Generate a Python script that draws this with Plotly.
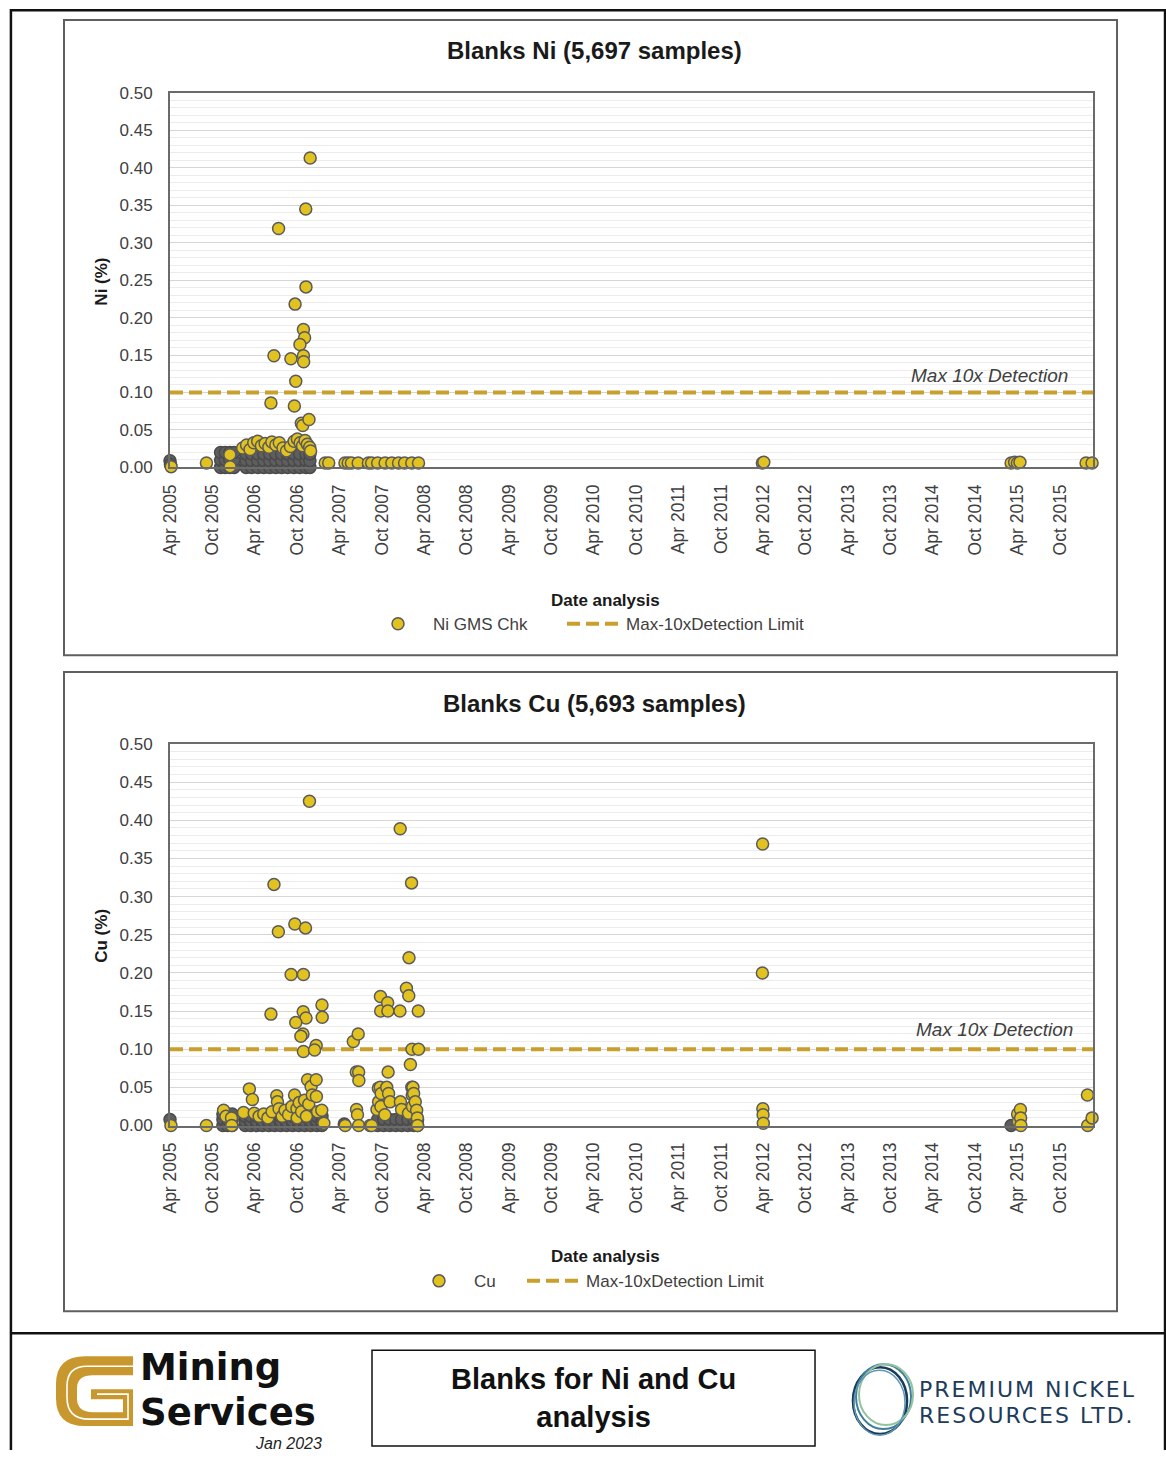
import plotly.graph_objects as go

W, H = 1166, 1460

# ---------------- data ----------------
tick_dates = ["2005-04-01", "2005-10-01", "2006-04-01", "2006-10-01", "2007-04-01", "2007-10-01",
              "2008-04-01", "2008-10-01", "2009-04-01", "2009-10-01", "2010-04-01", "2010-10-01",
              "2011-04-01", "2011-10-01", "2012-04-01", "2012-10-01", "2013-04-01", "2013-10-01",
              "2014-04-01", "2014-10-01", "2015-04-01", "2015-10-01"]
tick_labels = ["Apr 2005", "Oct 2005", "Apr 2006", "Oct 2006", "Apr 2007", "Oct 2007",
               "Apr 2008", "Oct 2008", "Apr 2009", "Oct 2009", "Apr 2010", "Oct 2010",
               "Apr 2011", "Oct 2011", "Apr 2012", "Oct 2012", "Apr 2013", "Oct 2013",
               "Apr 2014", "Oct 2014", "Apr 2015", "Oct 2015"]
x_range = ["2005-04-01", "2016-02-21"]
y_range = [0, 0.5]
y_tick_step = 0.05
detection_limit = 0.10

# Ni: tightly packed low values (render as a dark mass)
ni_dense_dates = [
    "2005-04-01", "2005-04-03",
    "2005-11-05", "2005-11-05", "2005-11-05",
    "2005-11-25", "2005-11-25", "2005-11-25",
    "2005-12-15", "2005-12-15", "2005-12-15",
    "2006-01-02", "2006-01-02", "2006-01-02",
    "2006-02-23", "2006-02-23", "2006-02-23",
    "2006-03-19", "2006-03-19", "2006-03-19",
    "2006-04-14", "2006-04-14", "2006-04-14",
    "2006-05-10", "2006-05-10", "2006-05-10",
    "2006-06-05", "2006-06-05", "2006-06-05",
    "2006-07-01", "2006-07-01", "2006-07-01",
    "2006-07-26", "2006-07-26", "2006-07-26",
    "2006-08-21", "2006-08-21", "2006-08-21",
    "2006-09-17", "2006-09-17", "2006-09-17",
    "2006-10-12", "2006-10-12", "2006-10-12",
    "2006-11-08", "2006-11-08", "2006-11-08",
    "2006-11-25", "2006-11-25", "2006-11-25",
]
ni_dense_vals = [
    0.009, 0.004,
    0.000, 0.010, 0.020,
    0.000, 0.010, 0.020,
    0.000, 0.010, 0.020,
    0.000, 0.010, 0.020,
    0.000, 0.009, 0.018,
    0.000, 0.009, 0.018,
    0.000, 0.009, 0.018,
    0.000, 0.009, 0.018,
    0.000, 0.009, 0.018,
    0.000, 0.009, 0.018,
    0.000, 0.009, 0.018,
    0.000, 0.009, 0.018,
    0.000, 0.009, 0.018,
    0.000, 0.009, 0.018,
    0.000, 0.009, 0.018,
    0.000, 0.009, 0.018,
]

# Ni: individually visible samples
ni_dates = [
    "2005-04-06", "2005-09-05", "2005-12-15", "2005-12-16",
    "2006-02-08", "2006-02-25", "2006-03-12", "2006-03-28", "2006-04-14", "2006-04-30",
    "2006-05-16", "2006-06-01", "2006-06-14", "2006-07-01", "2006-07-16", "2006-08-01",
    "2006-08-16", "2006-09-02", "2006-09-18", "2006-10-02", "2006-10-14", "2006-10-24",
    "2006-11-04", "2006-11-14", "2006-11-24", "2006-11-28",
    "2006-11-26", "2006-11-07", "2006-07-13", "2006-11-08", "2006-09-22", "2006-10-28",
    "2006-11-02", "2006-10-13", "2006-10-28", "2006-10-29", "2006-09-04", "2006-06-23",
    "2006-09-25", "2006-06-10", "2006-09-19", "2006-10-19", "2006-10-25", "2006-11-21",
    "2007-01-30", "2007-02-14", "2007-04-25", "2007-05-09", "2007-05-23", "2007-06-21",
    "2007-08-04", "2007-08-18", "2007-09-13", "2007-10-15", "2007-11-13", "2007-12-12",
    "2008-01-07", "2008-02-07", "2008-03-07",
    "2012-03-28", "2012-04-03",
    "2015-03-05", "2015-03-20", "2015-04-01", "2015-04-12",
    "2016-01-22", "2016-02-17",
]
ni_vals = [
    0.001, 0.006, 0.017, 0.001,
    0.026, 0.030, 0.024, 0.033, 0.035, 0.029,
    0.032, 0.027, 0.034, 0.030, 0.033, 0.026,
    0.022, 0.028, 0.035, 0.038, 0.033, 0.029,
    0.036, 0.031, 0.027, 0.022,
    0.413, 0.345, 0.319, 0.241, 0.218, 0.184,
    0.173, 0.164, 0.149, 0.141, 0.145, 0.149,
    0.115, 0.086, 0.082, 0.059, 0.056, 0.064,
    0.006, 0.006, 0.006, 0.006, 0.006, 0.006,
    0.006, 0.006, 0.006, 0.006, 0.006, 0.006,
    0.006, 0.006, 0.006,
    0.006, 0.007,
    0.006, 0.007, 0.006, 0.007,
    0.006, 0.006,
]

# Cu: tightly packed low values
cu_dense_dates = [
    "2005-04-01",
    "2005-11-15", "2005-11-15", "2005-11-15",
    "2005-12-05", "2005-12-05", "2005-12-05",
    "2005-12-25", "2005-12-25", "2005-12-25",
    "2006-02-19", "2006-02-19", "2006-02-19",
    "2006-03-15", "2006-03-15", "2006-03-15",
    "2006-04-10", "2006-04-10", "2006-04-10",
    "2006-05-05", "2006-05-05", "2006-05-05",
    "2006-06-01", "2006-06-01", "2006-06-01",
    "2006-06-26", "2006-06-26", "2006-06-26",
    "2006-07-22", "2006-07-22", "2006-07-22",
    "2006-08-17", "2006-08-17", "2006-08-17",
    "2006-09-12", "2006-09-12", "2006-09-12",
    "2006-10-08", "2006-10-08", "2006-10-08",
    "2006-11-03", "2006-11-03", "2006-11-03",
    "2006-11-29", "2006-11-29", "2006-11-29",
    "2006-12-25", "2006-12-25", "2006-12-25",
    "2007-01-16", "2007-01-16", "2007-01-16",
    "2007-04-22",
    "2007-09-13", "2007-09-13",
    "2007-10-09", "2007-10-09",
    "2007-11-04", "2007-11-04",
    "2007-11-30", "2007-11-30",
    "2007-12-25", "2007-12-25",
    "2008-01-21", "2008-01-21",
    "2008-02-16", "2008-02-16",
    "2008-03-03", "2008-03-03",
    "2015-03-05",
]
cu_dense_vals = [
    0.008,
    0.000, 0.008, 0.015,
    0.000, 0.008, 0.015,
    0.000, 0.008, 0.015,
    0.000, 0.006, 0.012,
    0.000, 0.006, 0.012,
    0.000, 0.006, 0.012,
    0.000, 0.006, 0.012,
    0.000, 0.006, 0.012,
    0.000, 0.006, 0.012,
    0.000, 0.006, 0.012,
    0.000, 0.006, 0.012,
    0.000, 0.006, 0.012,
    0.000, 0.006, 0.012,
    0.000, 0.006, 0.012,
    0.000, 0.006, 0.012,
    0.000, 0.006, 0.012,
    0.000, 0.006, 0.012,
    0.002,
    0.000, 0.008,
    0.000, 0.008,
    0.000, 0.008,
    0.000, 0.008,
    0.000, 0.008,
    0.000, 0.008,
    0.000, 0.008,
    0.000, 0.008,
    0.000,
]

# Cu: individually visible samples
cu_dates = [
    "2005-04-05", "2005-09-05", "2005-11-18", "2005-11-28", "2005-12-22", "2005-12-23",
    "2006-02-12", "2006-03-09", "2006-03-22", "2006-03-30", "2006-04-20", "2006-05-10",
    "2006-05-28", "2006-06-15", "2006-07-05", "2006-07-08", "2006-07-15", "2006-07-28",
    "2006-08-10", "2006-08-25", "2006-09-08", "2006-09-20", "2006-09-30", "2006-10-01",
    "2006-10-10", "2006-10-20", "2006-11-02", "2006-11-10", "2006-11-15", "2006-11-20",
    "2006-11-30", "2006-12-05", "2006-12-22", "2006-12-23", "2006-12-28", "2007-01-15",
    "2007-01-24",
    "2006-11-23", "2006-06-23", "2006-07-12", "2006-09-21", "2006-11-06", "2006-09-05",
    "2006-10-28", "2006-06-10", "2006-10-27", "2006-11-08", "2006-09-25", "2006-10-26",
    "2006-10-17", "2007-01-16", "2007-01-17", "2006-12-22", "2006-10-28", "2006-12-15",
    "2007-04-26", "2007-05-31", "2007-06-21", "2007-06-13", "2007-06-23", "2007-06-24",
    "2007-06-14", "2007-06-18", "2007-06-23", "2007-08-11",
    "2007-08-18", "2007-09-10", "2007-09-16", "2007-09-17", "2007-09-24", "2007-09-25",
    "2007-09-26", "2007-09-27", "2007-09-28", "2007-10-14", "2007-10-22", "2007-10-26",
    "2007-10-27", "2007-10-28", "2007-10-30", "2007-11-05", "2007-12-18", "2007-12-19",
    "2007-12-20", "2007-12-25", "2008-01-15", "2008-01-24", "2008-01-25", "2008-01-26",
    "2008-02-01", "2008-02-06", "2008-02-07", "2008-02-08", "2008-02-09", "2008-02-10",
    "2008-02-12", "2008-02-15", "2008-02-22", "2008-02-28", "2008-03-02", "2008-03-03",
    "2008-03-06", "2008-03-07",
    "2012-03-28", "2012-03-29", "2012-03-30", "2012-03-31", "2012-04-01",
    "2015-04-02", "2015-04-05", "2015-04-14", "2015-04-15", "2015-04-16",
    "2016-01-28", "2016-01-29", "2016-02-17",
]
cu_vals = [
    0.000, 0.000, 0.020, 0.012, 0.010, 0.000,
    0.017, 0.048, 0.034, 0.016, 0.012, 0.015,
    0.010, 0.018, 0.039, 0.031, 0.022, 0.012,
    0.020, 0.014, 0.025, 0.040, 0.022, 0.010,
    0.030, 0.018, 0.033, 0.012, 0.060, 0.028,
    0.051, 0.040, 0.060, 0.038, 0.018, 0.020,
    0.003,
    0.425, 0.316, 0.254, 0.264, 0.259, 0.198,
    0.198, 0.146, 0.149, 0.141, 0.135, 0.120,
    0.117, 0.158, 0.142, 0.105, 0.097, 0.099,
    0.000, 0.110, 0.120, 0.070, 0.070, 0.059,
    0.021, 0.014, 0.000, 0.000,
    0.000, 0.021, 0.049, 0.031, 0.050, 0.169,
    0.150, 0.025, 0.042, 0.014, 0.050, 0.161,
    0.150, 0.070, 0.042, 0.031, 0.150, 0.389,
    0.031, 0.021, 0.180, 0.016, 0.170, 0.220,
    0.080, 0.318, 0.050, 0.100, 0.040, 0.025,
    0.050, 0.042, 0.031, 0.020, 0.010, 0.000,
    0.150, 0.100,
    0.200, 0.369, 0.022, 0.014, 0.003,
    0.015, 0.005, 0.021, 0.010, 0.000,
    0.040, 0.000, 0.010,
]

ni_title = "Blanks Ni (5,697 samples)"
cu_title = "Blanks Cu (5,693 samples)"
ni_series = "Ni GMS Chk"
cu_series = "Cu"
limit_series = "Max-10xDetection Limit"
limit_label = "Max 10x Detection"
x_title = "Date analysis"
ni_ytitle = "Ni (%)"
cu_ytitle = "Cu (%)"

# ---------------- styling ----------------
FONT = "Liberation Sans, Arial, sans-serif"
FILL = "#e2c21f"
EDGE = "#5a5a5a"
DENSE_FILL = "#5e5e5e"
LIMIT_COLOR = "#c9a02c"
TXT = "#404040"

# the photographed page shows a small inset; place layout positions so they land
# where the reference has them
OX, OY, SX, SY = 9.0, 9.0, 0.9914, 0.9883


def px(x):
    return min(max(((x - OX) / SX) / W, 0.0008), 0.9995)


def py(y):
    return 1 - min(max(((y - OY) / SY) / H, 0.0008), 0.9995)


def pix_path(s):
    out, is_x = [], True
    for t in s.replace(",", " ").split():
        if t.isalpha():
            out.append(t)
            is_x = True
        else:
            v = float(t)
            out.append(f"{px(v):.5f}" if is_x else f"{py(v):.5f}")
            is_x = not is_x
    return " ".join(out)


fig = go.Figure()

panels = [
    dict(xa="x", ya="y", dd=ni_dense_dates, dv=ni_dense_vals, d=ni_dates, v=ni_vals,
         name=ni_series, lg_pts="legend", lg_line="legend2"),
    dict(xa="x2", ya="y2", dd=cu_dense_dates, dv=cu_dense_vals, d=cu_dates, v=cu_vals,
         name=cu_series, lg_pts="legend3", lg_line="legend4"),
]

for p in panels:
    fig.add_trace(go.Scatter(
        x=x_range, y=[detection_limit, detection_limit], mode="lines",
        line=dict(color=LIMIT_COLOR, width=4, dash="13px,6px"),
        name=limit_series, xaxis=p["xa"], yaxis=p["ya"], legend=p["lg_line"],
        hoverinfo="skip"))
    fig.add_trace(go.Scatter(
        x=p["dd"], y=p["dv"], mode="markers",
        marker=dict(size=12, color=DENSE_FILL, line=dict(color="#4a4a4a", width=1.5)),
        showlegend=False, xaxis=p["xa"], yaxis=p["ya"], cliponaxis=False))
    fig.add_trace(go.Scatter(
        x=p["d"], y=p["v"], mode="markers",
        marker=dict(size=12, color=FILL, line=dict(color=EDGE, width=1.5)),
        name=p["name"], xaxis=p["xa"], yaxis=p["ya"], legend=p["lg_pts"], cliponaxis=False))

xaxis_common = dict(
    type="date", range=x_range, tickmode="array", tickvals=tick_dates, ticktext=tick_labels,
    tickangle=-90, tickfont=dict(size=17.5, color=TXT, family=FONT), showgrid=False,
    showline=True, linecolor="#6b6b6b", linewidth=2, mirror=True, zeroline=False,
    ticks="", ticklabelstandoff=8, fixedrange=True)
yaxis_common = dict(
    range=y_range, dtick=y_tick_step, tick0=0, tickformat=".2f",
    tickfont=dict(size=17, color=TXT, family=FONT),
    showgrid=True, gridcolor="#d6d6d6", gridwidth=1,
    minor=dict(dtick=0.01, showgrid=True, gridcolor="#ececec", gridwidth=1),
    showline=True, linecolor="#6b6b6b", linewidth=2, mirror=True, zeroline=False,
    ticks="", ticklabelstandoff=12, fixedrange=True)

x0d, x1d = px(169), px(1092)
fig.update_layout(
    width=W, height=H, margin=dict(l=0, r=0, t=0, b=0),
    paper_bgcolor="white", plot_bgcolor="white",
    font=dict(family=FONT, color=TXT),
    xaxis=dict(domain=[x0d, x1d], anchor="y", **xaxis_common),
    yaxis=dict(domain=[py(468), py(93)], anchor="x", **yaxis_common),
    xaxis2=dict(domain=[x0d, x1d], anchor="y2", **xaxis_common),
    yaxis2=dict(domain=[py(1127), py(745)], anchor="x2", **yaxis_common),
)

leg_common = dict(orientation="h", yanchor="middle", xanchor="left", bgcolor="rgba(0,0,0,0)",
                  font=dict(size=17, color=TXT, family=FONT), borderwidth=0)
fig.update_layout(
    legend=dict(x=px(362), y=py(625), itemwidth=60, **leg_common),
    legend2=dict(x=px(561), y=py(625), itemwidth=54, **leg_common),
    legend3=dict(x=px(403), y=py(1283), itemwidth=60, **leg_common),
    legend4=dict(x=px(521), y=py(1283), itemwidth=54, **leg_common),
)

ann = []


def add_text(text, x, y, size, color="#1a1a1a", xanchor="center", angle=0, family=FONT,
             align="center"):
    ann.append(dict(text=text, x=px(x), y=py(y), xref="paper", yref="paper", showarrow=False,
                    xanchor=xanchor, yanchor="middle", textangle=angle, align=align,
                    font=dict(size=size, color=color, family=family)))


add_text(f"<b>{ni_title}</b>", 593, 51, 24)
add_text(f"<b>{cu_title}</b>", 593, 704, 24)
add_text(f"<b>{ni_ytitle}</b>", 101, 282, 17, angle=-90)
add_text(f"<b>{cu_ytitle}</b>", 101, 937, 17, angle=-90)
add_text(f"<b>{x_title}</b>", 604, 601, 17)
add_text(f"<b>{x_title}</b>", 604, 1258, 17)
add_text(f"<i>{limit_label}</i>", 988, 376, 19, color=TXT)
add_text(f"<i>{limit_label}</i>", 993, 1031, 19, color=TXT)

# footer texts
LOGO_FONT = "DejaVu Sans, sans-serif"
add_text("<b>Blanks for Ni and Cu<br>analysis</b>", 592, 1400, 29, color="#111111")
add_text("<b>Mining</b>", 137, 1369, 37, color="#111111", xanchor="left", family=LOGO_FONT)
add_text("<b>Services</b>", 137, 1414, 37, color="#111111", xanchor="left", family=LOGO_FONT)
add_text("<i>Jan 2023</i>", 323, 1445, 16, color="#222222", xanchor="right")
add_text("<span style='letter-spacing:2px'>PREMIUM NICKEL</span>", 916, 1391, 22,
         color="#1d3c5b", xanchor="left", family=LOGO_FONT)
add_text("<span style='letter-spacing:2px'>RESOURCES LTD.</span>", 916, 1417, 22,
         color="#1d3c5b", xanchor="left", family=LOGO_FONT)

shapes = []


def rect(x0, y0, x1, y1, color, width):
    shapes.append(dict(type="rect", xref="paper", yref="paper", x0=px(x0), y0=py(y0),
                       x1=px(x1), y1=py(y1), line=dict(color=color, width=width),
                       fillcolor="rgba(0,0,0,0)", layer="below"))


# outer frame (open at the bottom edge) and separators
shapes.append(dict(type="path", xref="paper", yref="paper", layer="below",
                   path=f"M {px(5):.5f} 0 L {px(5):.5f} {py(4):.5f} "
                        f"L {px(1164):.5f} {py(4):.5f} L {px(1164):.5f} 0",
                   line=dict(color="#111111", width=2.5)))
shapes.append(dict(type="line", xref="paper", yref="paper", x0=px(5), x1=1,
                   y0=py(1335), y1=py(1335), line=dict(color="#111111", width=2.5)))
rect(63, 20, 1116, 656, "#5f5f5f", 2)
rect(63, 673, 1116, 1313, "#5f5f5f", 2)
rect(371, 1352, 814, 1448, "#111111", 1.5)

# Mining Services "G" mark
gold = "#c8982e"
shapes.append(dict(type="path", xref="paper", yref="paper", layer="above",
                   path=pix_path("M 132 1358 L 84 1358 Q 55 1358 55 1386 L 55 1400 Q 55 1428 84 1428 "
                                 "L 132 1428 L 132 1391 L 90 1391 L 90 1401 L 122 1401 L 122 1414 "
                                 "L 92 1414 Q 76 1414 76 1400 L 76 1390 Q 76 1377 92 1377 L 132 1377 Z"),
                   fillcolor=gold, line=dict(width=0)))
shapes.append(dict(type="path", xref="paper", yref="paper", layer="above",
                   path=pix_path("M 132 1368 L 86 1368 Q 66 1368 66 1388 L 66 1399 Q 66 1421 88 1421 "
                                 "L 127 1421 L 127 1396 L 96 1396"),
                   line=dict(color="white", width=1.6)))

# Premium Nickel rings
for (x0, y0, x1, y1, c, w) in [(852, 1369, 906, 1436, "#1c3a57", 2.6),
                               (855, 1366, 910, 1431, "#3d7f9b", 2.0),
                               (858, 1366, 912, 1427, "#93c29e", 2.0),
                               (853, 1372, 904, 1437, "#5f98b8", 1.5)]:
    shapes.append(dict(type="circle", xref="paper", yref="paper", x0=px(x0), y0=py(y0),
                       x1=px(x1), y1=py(y1), line=dict(color=c, width=w)))

fig.update_layout(annotations=ann, shapes=shapes)
fig.write_html(
    "out.html",
    config={"displayModeBar": False},
    post_script="document.body.style.margin='0px';document.body.style.padding='0px';"
                "document.documentElement.style.overflow='hidden';")
